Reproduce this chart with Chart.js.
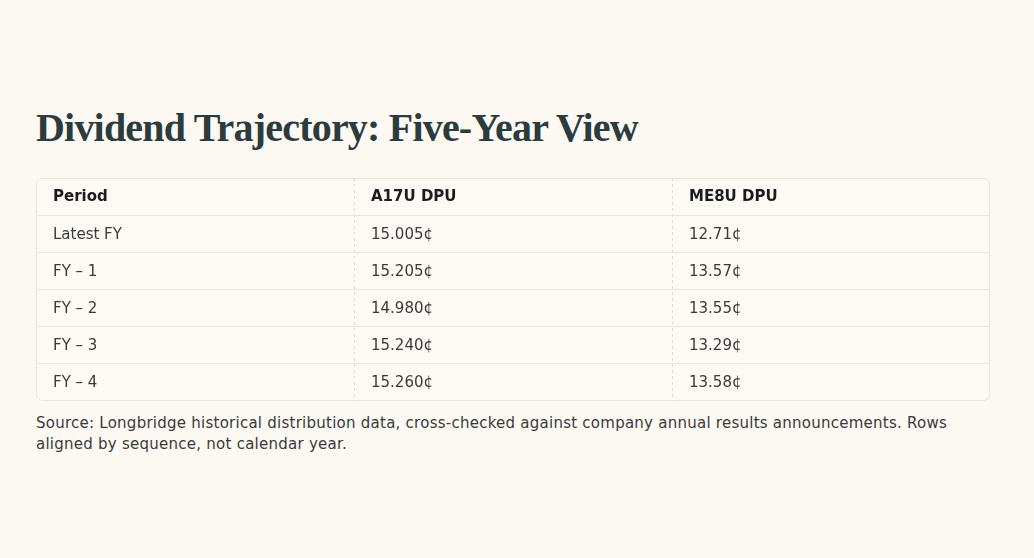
<!DOCTYPE html>
<html>
<head>
<meta charset="utf-8">
<script src="https://cdn.jsdelivr.net/npm/chart.js@4"></script>
<style>
  html, body { margin: 0; padding: 0; background: #fcf8f2; }
  body { width: 1034px; height: 558px; position: relative; overflow: hidden; }
  #title {
    position: absolute; left: 36px; top: 108px; margin: 0;
    font-family: "Liberation Serif", serif; font-weight: bold;
    font-size: 40px; line-height: 40px; letter-spacing: -0.8px;
    color: #2b3c3e; white-space: nowrap;
  }
  #table-wrap { position: absolute; left: 35px; top: 177px; width: 956px; height: 225px; }
  #source {
    position: absolute; left: 36px; top: 413px; margin: 0;
    font-family: "DejaVu Sans", sans-serif; font-size: 15px; line-height: 21px;
    letter-spacing: 0.25px; color: #3a3a3a; white-space: nowrap;
  }
</style>
</head>
<body>
<h1 id="title">Dividend Trajectory: Five-Year View</h1>
<div id="table-wrap"><canvas id="dpu-table"></canvas></div>
<p id="source">Source: Longbridge historical distribution data, cross-checked against company annual results announcements. Rows<br>aligned by sequence, not calendar year.</p>
<script>
const ctx = document.getElementById('dpu-table');

const columns = ['Period', 'A17U DPU', 'ME8U DPU'];
const periods = ['Latest FY', 'FY – 1', 'FY – 2', 'FY – 3', 'FY – 4'];
const a17uDpu = [15.005, 15.205, 14.980, 15.240, 15.260];
const me8uDpu = [12.71, 13.57, 13.55, 13.29, 13.58];

const lineColor = '#ebe5dc';
const bodyFont = '"DejaVu Sans", sans-serif';

// cells: each column is a dataset, x = column index, y = row index (header = 0)
function cellPoints(col, values, fmt) {
    return values.map((v, i) => ({ x: col, y: i + 1, text: fmt(v) }));
}

const headerPoints = columns.map((c, i) => ({ x: i, y: 0, text: c }));

const tablePlugin = {
    id: 'tablePlugin',
    beforeDraw(chart) {
        const { ctx, chartArea: a } = chart;
        ctx.save();
        ctx.fillStyle = '#fdfaf5';
        ctx.strokeStyle = lineColor;
        ctx.lineWidth = 1;
        ctx.beginPath();
        ctx.roundRect(a.left + 0.5, a.top + 0.5, a.width - 1, a.height - 1, 6);
        ctx.fill();
        ctx.stroke();
        ctx.restore();
    },
    afterDatasetsDraw(chart) {
        const { ctx, scales: { x, y } } = chart;
        ctx.save();
        ctx.textBaseline = 'middle';
        ctx.textAlign = 'left';
        chart.data.datasets.forEach((ds) => {
            ds.data.forEach((p) => {
                const px = x.getPixelForValue(p.x) + 17;
                const py = (y.getPixelForValue(p.y) + y.getPixelForValue(p.y + 1)) / 2 + 1;
                if (p.y === 0) {
                    ctx.font = 'bold 15px ' + bodyFont;
                    ctx.fillStyle = '#1c1c1c';
                } else {
                    ctx.font = '15px ' + bodyFont;
                    ctx.fillStyle = '#3a3a3a';
                }
                ctx.fillText(p.text, px, py);
            });
        });
        ctx.restore();
    }
};

new Chart(ctx, {
    type: 'scatter',
    data: {
        datasets: [
            { label: 'Header', data: headerPoints },
            { label: columns[0], data: cellPoints(0, periods, (v) => v) },
            { label: columns[1], data: cellPoints(1, a17uDpu, (v) => v.toFixed(3) + '¢') },
            { label: columns[2], data: cellPoints(2, me8uDpu, (v) => v.toFixed(2) + '¢') }
        ]
    },
    options: {
        responsive: true,
        maintainAspectRatio: false,
        animation: false,
        layout: { padding: 1 },
        elements: { point: { radius: 0, hoverRadius: 0 } },
        plugins: { legend: { display: false }, tooltip: { enabled: false } },
        events: [],
        scales: {
            x: {
                type: 'linear', min: 0, max: columns.length,
                ticks: { display: false, stepSize: 1 },
                border: { display: false, dash: [3, 3] },
                grid: {
                    drawTicks: false,
                    color: (c) => (c.tick.value === 0 || c.tick.value === columns.length) ? 'rgba(0,0,0,0)' : '#e2dcd2'
                }
            },
            y: {
                type: 'linear', min: 0, max: periods.length + 1, reverse: true,
                ticks: { display: false, stepSize: 1 },
                border: { display: false },
                grid: {
                    drawTicks: false,
                    color: (c) => (c.tick.value === 0 || c.tick.value === periods.length + 1) ? 'rgba(0,0,0,0)' : lineColor
                }
            }
        }
    },
    plugins: [tablePlugin]
});
</script>
</body>
</html>
